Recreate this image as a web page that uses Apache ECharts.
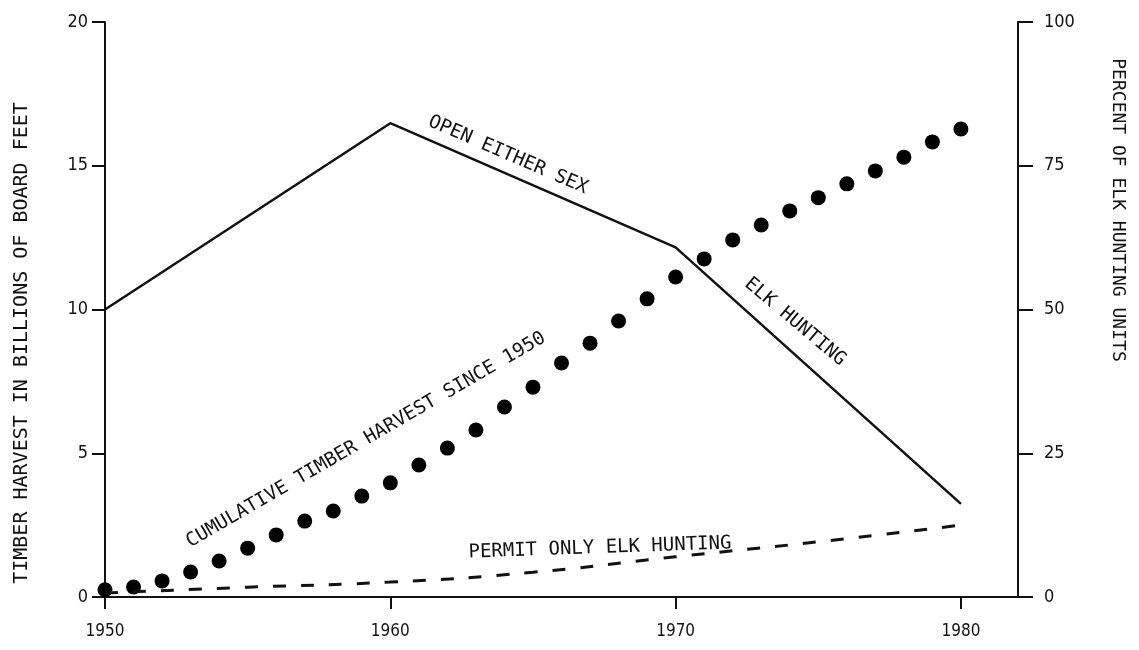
<!DOCTYPE html>
<html>
<head>
<meta charset="utf-8">
<script src="https://cdn.jsdelivr.net/npm/echarts@6/dist/echarts.min.js"></script>
<style>
html,body{margin:0;padding:0;background:#fff;}
#chart{width:1139px;height:650px;}
</style>
</head>
<body>
<div id="chart"></div>
<script>
// ---- data ----
const xTicks = [1950, 1960, 1970, 1980];
const leftTicks = [0, 5, 10, 15, 20];
const rightTicks = [0, 25, 50, 75, 100];

const cumulativeYears = [1950,1951,1952,1953,1954,1955,1956,1957,1958,1959,1960,1961,1962,1963,1964,1965,1966,1967,1968,1969,1970,1971,1972,1973,1974,1975,1976,1977,1978,1979,1980];
const cumulativeHarvest = [0.25,0.35,0.56,0.87,1.25,1.70,2.16,2.64,2.99,3.51,3.97,4.59,5.18,5.81,6.61,7.30,8.14,8.83,9.60,10.37,11.13,11.76,12.42,12.94,13.43,13.89,14.37,14.82,15.30,15.83,16.28];

const openYears = [1950, 1960, 1970, 1980];
const openEitherSex = [50, 82.4, 60.8, 16.2];

const permitYears = [1950, 1955, 1960, 1965, 1970, 1975, 1980];
const permitOnly = [0.7, 1.7, 2.6, 4.3, 7.0, 9.6, 12.5];

const labels = {
  left: 'TIMBER HARVEST IN BILLIONS OF BOARD FEET',
  right: 'PERCENT OF ELK HUNTING UNITS',
  open: 'OPEN EITHER SEX',
  elk: 'ELK HUNTING',
  cumulative: 'CUMULATIVE TIMBER HARVEST SINCE 1950',
  permit: 'PERMIT ONLY ELK HUNTING'
};

const INK = '#111';
const tickFont = 'DejaVu Sans Condensed';
const annFont = 'DejaVu Sans Mono';

const chart = echarts.init(document.getElementById('chart'), null, {renderer: 'canvas'});

function txt(text, x, y, deg, size) {
  return {
    type: 'text', x: x, y: y, rotation: deg * Math.PI / 180,
    style: {
      text: text, x: 0, y: 0, align: 'center', verticalAlign: 'middle',
      fill: INK, font: size + 'px "' + annFont + '"'
    },
    silent: true
  };
}

const option = {
  backgroundColor: '#fff',
  animation: false,
  grid: {left: 105, right: 121, top: 22, bottom: 53},
  xAxis: {
    type: 'value', min: 1950, max: 1982, interval: 10,
    splitLine: {show: false},
    axisLine: {show: true, onZero: false, lineStyle: {color: INK, width: 2}},
    axisTick: {show: true, length: 12, customValues: xTicks, lineStyle: {color: INK, width: 2}},
    axisLabel: {customValues: xTicks, color: INK, fontFamily: tickFont, fontSize: 17, margin: 26,
      formatter: v => String(v)}
  },
  yAxis: [
    {
      type: 'value', min: 0, max: 20, interval: 5, position: 'left',
      splitLine: {show: false},
      axisLine: {show: true, lineStyle: {color: INK, width: 2}},
      axisTick: {show: true, length: 13, lineStyle: {color: INK, width: 2}},
      axisLabel: {color: INK, fontFamily: tickFont, fontSize: 18, margin: 17}
    },
    {
      type: 'value', min: 0, max: 100, interval: 25, position: 'right',
      splitLine: {show: false},
      axisLine: {show: true, lineStyle: {color: INK, width: 2}},
      axisTick: {show: true, length: 15, lineStyle: {color: INK, width: 2}},
      axisLabel: {color: INK, fontFamily: tickFont, fontSize: 18, margin: 26, align: 'left'}
    }
  ],
  series: [
    {
      name: 'Cumulative timber harvest', type: 'scatter', yAxisIndex: 0,
      symbol: 'circle', symbolSize: 15,
      itemStyle: {color: '#000', opacity: 1},
      data: cumulativeYears.map((y, i) => [y, cumulativeHarvest[i]])
    },
    {
      name: 'Open either sex', type: 'line', yAxisIndex: 1,
      symbol: 'none',
      lineStyle: {color: INK, width: 2.5},
      data: openYears.map((y, i) => [y, openEitherSex[i]])
    },
    {
      name: 'Permit only', type: 'line', yAxisIndex: 1, smooth: true,
      symbol: 'none',
      lineStyle: {color: INK, width: 3, type: [13, 15]},
      data: permitYears.map((y, i) => [y, permitOnly[i]])
    }
  ],
  graphic: [
    txt(labels.left, 22, 343, 90, 20),
    txt(labels.right, 1118, 210, -90, 18),
    txt(labels.open, 508, 155, -23.4, 19),
    txt(labels.elk, 795, 322, -40, 19),
    txt(labels.cumulative, 366, 440, 30.1, 19),
    txt(labels.permit, 600, 548, 2, 19)
  ]
};
chart.setOption(option);
</script>
</body>
</html>
